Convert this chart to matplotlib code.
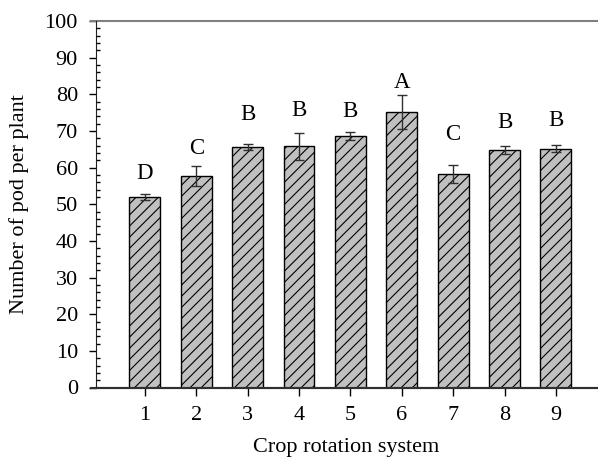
import numpy as np
import matplotlib.pyplot as plt
from matplotlib.ticker import MultipleLocator

plt.rcParams['font.family'] = ['Liberation Serif', 'DejaVu Serif']
plt.rcParams['hatch.linewidth'] = 0.8

systems = [1, 2, 3, 4, 5, 6, 7, 8, 9]
pods = [52.0, 57.8, 65.6, 65.8, 68.6, 75.1, 58.2, 64.8, 65.2]
errs = [0.8, 2.7, 0.8, 3.6, 1.1, 4.7, 2.5, 1.0, 1.0]
letters = ['D', 'C', 'B', 'B', 'B', 'A', 'C', 'B', 'B']
letter_y = [58.4, 65.2, 74.6, 75.6, 75.4, 83.3, 68.9, 72.2, 72.8]

fig = plt.figure(figsize=(5.98, 4.58), dpi=100)
ax = fig.add_axes([96/598, 70.5/458, 501/598, 366.5/458])

x = np.array(systems)
ax.bar(x, pods, width=0.6, color='#c0c0c0', edgecolor='black', linewidth=1.0,
       hatch='///', zorder=2)
ax.errorbar(x, pods, yerr=errs, fmt='none', ecolor='#303030', elinewidth=1.0,
            capsize=3.6, capthick=1.0, zorder=3)

for xi, lab, ly in zip(x, letters, letter_y):
    ax.text(xi, ly, lab, ha='center', va='center', fontsize=16.5)

ax.set_xlim(0.05, 9.8)
ax.set_ylim(0, 100)
ax.set_xticks(x)
ax.yaxis.set_major_locator(MultipleLocator(10))
ax.yaxis.set_minor_locator(MultipleLocator(2))

for s in ['right', 'top']:
    ax.spines[s].set_visible(False)
ax.spines['left'].set_color('#202020')
ax.spines['bottom'].set_color('#303030')
ax.spines['bottom'].set_linewidth(1.5)

# gray line along the top, dark line along the bottom, both poking left a bit
ax.axhline(100, xmin=-0.01, xmax=1.0, color='#808080', lw=1.5, clip_on=False)
ax.axhline(0, xmin=-0.01, xmax=1.0, color='#303030', lw=1.5, clip_on=False)

ax.tick_params(axis='y', which='major', direction='out', length=5, width=1,
               pad=8, labelsize=16)
ax.tick_params(axis='y', which='minor', direction='in', length=3, width=1)
ax.tick_params(axis='x', which='major', direction='out', length=6, width=1,
               pad=7, labelsize=16)

ax.set_xlabel('Crop rotation system', fontsize=16, labelpad=10)
ax.set_ylabel('Number of pod per plant', fontsize=16, labelpad=11)

fig.savefig('out.png', dpi=100)
